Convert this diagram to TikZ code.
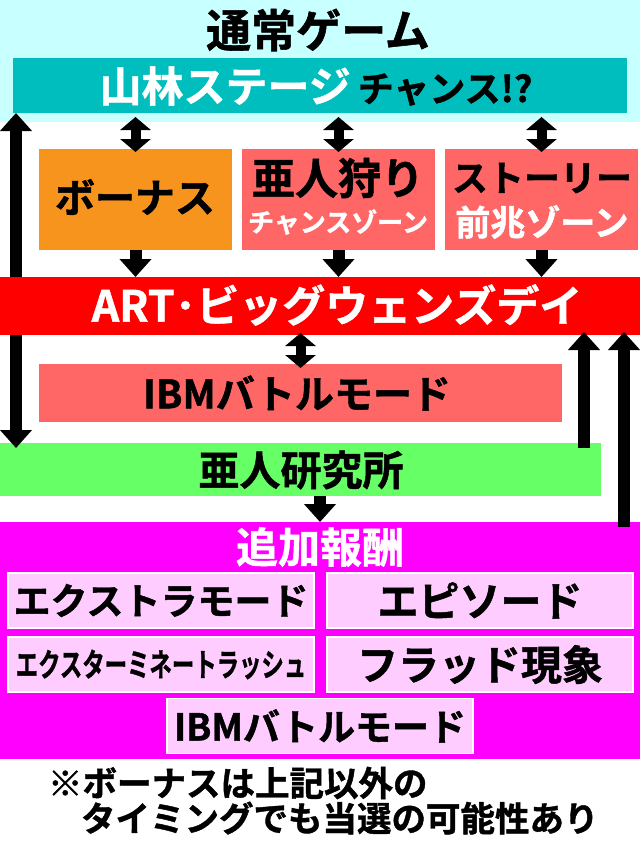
\documentclass[tikz,border=0pt]{standalone}
\usepackage{fontspec}
\setmainfont{Noto Sans CJK JP}[UprightFont=* Bold, FakeBold=1.2]
\usepackage{graphicx}
\usetikzlibrary{arrows.meta}
\definecolor{normalcyan}{HTML}{C8FFFF}
\definecolor{stageteal}{HTML}{00BEBE}
\definecolor{bonusorange}{HTML}{F7941D}
\definecolor{zonered}{HTML}{FF6666}
\definecolor{artred}{HTML}{FF0000}
\definecolor{labgreen}{HTML}{66FF66}
\definecolor{rewardmagenta}{HTML}{FF00FF}
\definecolor{rewardpink}{HTML}{FFCCFF}
\newcommand*{\fs}[1]{\fontsize{#1}{#1}\selectfont}
\newcommand*{\rewardbox}[5]{%
\node[rewardframe, font=\fs{#5}] (#1) at (#3,#4) {#2};
}

\begin{document}
\begin{tikzpicture}[x=1pt,y=-1pt]
		\tikzset{
			basefont/.style = {inner sep = 0pt, outer sep = 0pt},
			bar/.style = {basefont, draw = none},
			frame/.style = {basefont, minimum width = 193pt, minimum height = 101pt},
			rewardframe/.style = {basefont, fill = rewardpink, draw = white, line width = 1.5pt, minimum width = 306pt, minimum height = 55pt},
			label/.style = {basefont, text = black},
			whitelabel/.style = {basefont, text = white},
			uparrow/.style = {line width = 12pt, -{Triangle[width = 31pt, length = 18pt]}},
			dblarrow/.style = {line width = 10pt, {Triangle[width = 30pt, length = 13pt]}-{Triangle[width = 30pt, length = 13pt]}},
		};
		\useasboundingbox (0,0) rectangle (640,843);
		\fill[white] (0,0) rectangle (640,843);

		% normal game
		\node[bar, fill = normalcyan, minimum width = 640pt, minimum height = 122pt] (normal) at (320,61) {};
		\node[label, font = \fs{45}] (normal-label) at (318,30) {通常ゲーム};
		\node[bar, fill = stageteal, minimum width = 614pt, minimum height = 55pt] (stage) at (320,85.5) {};
		\node[label, font = \fs{42}] (stage-label) at (316,86) {{\color{white}山林ステージ}\,{\fs{36}チャンス!?}};

		% chances
		\node[frame, fill = bonusorange] (bonus) at (135.5,199.5) {};
		\node[label, font = \fs{40}] (bonus-label) at (135,197) {ボーナス};
		\node[frame, fill = zonered] (hunt) at (338.5,199.5) {};
		\node[label, font = \fs{43}] (hunt-label) at (338,178) {亜人狩り};
		\node[whitelabel, font = \fs{26}] (hunt-sub) at (338,222) {チャンスゾーン};
		\node[frame, fill = zonered] (story) at (541.5,199.5) {};
		\node[label, font = \fs{36}] (story-label) at (542,178) {ストーリー};
		\node[whitelabel, font = \fs{35}] (story-sub) at (542,222) {前兆ゾーン};

		% ART
		\node[bar, fill = artred, minimum width = 640pt, minimum height = 58pt] (art) at (320,306) {};
		\node[whitelabel, font = \fs{43}] (art-label) at (337,305) {ART･ビッグウェンズデイ};
		\node[bar, fill = zonered, minimum width = 523pt, minimum height = 58pt] (ibm) at (300.5,393) {};
		\node[label, font = \fs{39}] (ibm-label) at (297,393) {IBMバトルモード};
		\node[bar, fill = labgreen, minimum width = 601pt, minimum height = 53pt] (lab) at (300.5,469.5) {};
		\node[label, font = \fs{41}] (lab-label) at (301,470) {亜人研究所};

		% rewards
		\node[bar, fill = rewardmagenta, minimum width = 640pt, minimum height = 237pt] (reward) at (320,640.5) {};
		\node[whitelabel, font = \fs{42}] (reward-label) at (320,547) {追加報酬};
		\rewardbox{extra}{エクストラモード}{161}{600.5}{37}
		\rewardbox{episode}{エピソード}{480}{600.5}{41}
		\rewardbox{exterm}{\scalebox{0.7}[1]{エクスターミネートラッシュ}}{161}{664.5}{32}
		\rewardbox{flood}{フラッド現象}{480}{664.5}{41}
		\rewardbox{ibmreward}{IBMバトルモード}{320}{726}{37}

		% note
		\node[label, font = \fs{34.5}, anchor = west] (note1) at (48,783) {※ボーナスは上記以外の};
		\node[label, font = \fs{34.5}, anchor = west] (note2) at (81,818) {タイミングでも当選の可能性あり};

		% arrows
		\foreach \frm in {bonus, hunt, story} {
			\draw[dblarrow] ([yshift = -4pt]stage.south -| \frm) -- ([yshift = -3pt]\frm.north);
			\draw[uparrow] (\frm.south) -- (\frm.south |- art.north);
		}
		\draw[uparrow] ([xshift = 16pt]art.north west) -- ([xshift = 16pt]art.north west |- stage.south);
		\draw[uparrow] ([xshift = 16pt]art.south west) -- ([xshift = 16pt, yshift = -5pt]lab.north west);
		\draw[dblarrow] ([yshift = 2pt]art.south -| ibm) -- ([yshift = -4pt]ibm.north);
		\draw[uparrow] ([xshift = -17pt, yshift = -5pt]lab.north east) -- ([xshift = -17pt, yshift = 3pt]lab.north east |- art.south);
		\draw[uparrow] ([xshift = -16pt, yshift = -5pt]reward.north east) -- ([xshift = -16pt, yshift = 3pt]reward.north east |- art.south);
		\draw[uparrow] (lab.south -| reward.north) -- (reward.north);
	\end{tikzpicture}
\end{document}
